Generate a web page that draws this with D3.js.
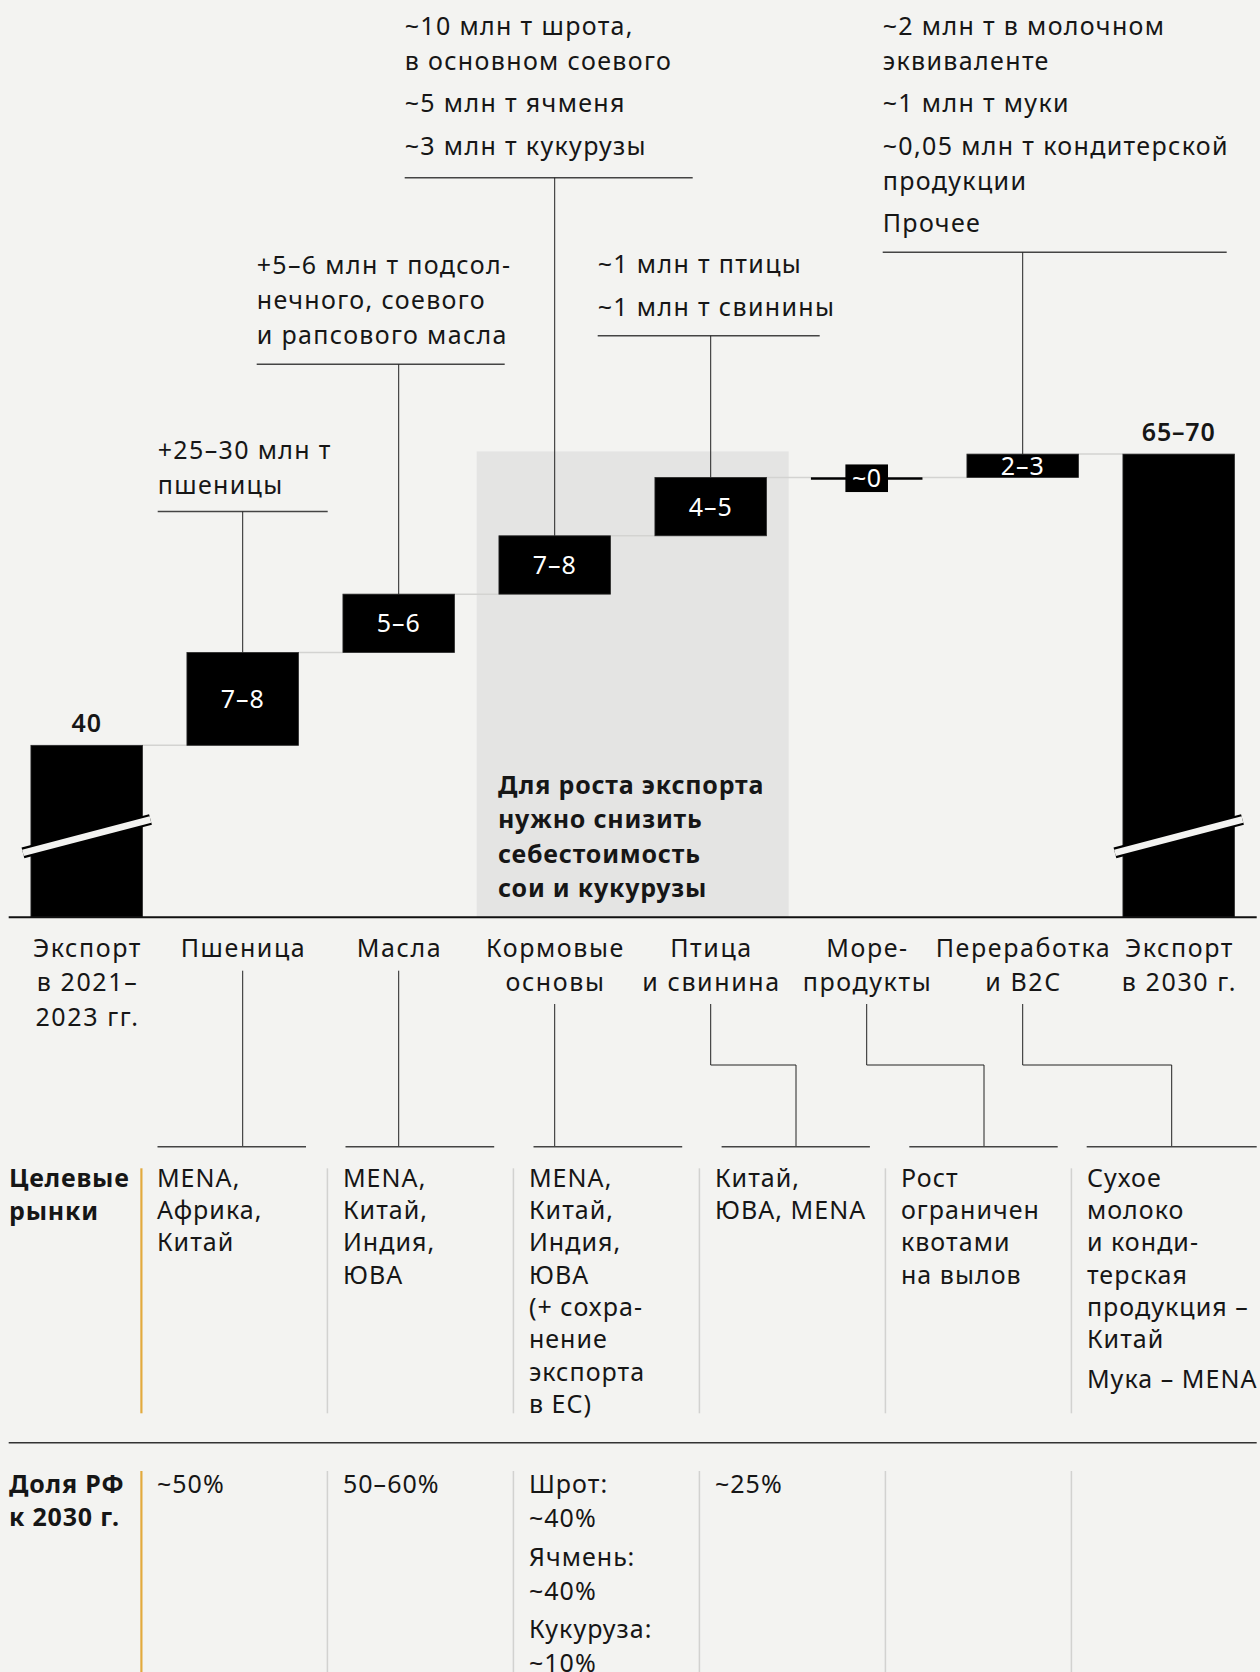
<!DOCTYPE html>
<html><head><meta charset="utf-8">
<script src="https://cdn.jsdelivr.net/npm/d3@7"></script>
<style>
html,body{margin:0;padding:0;background:#f3f3f1;}
svg{display:block;}
text{font-family:"Noto Sans",sans-serif;fill:#161616;font-size:25px;letter-spacing:1.6px;}
text.note{letter-spacing:1.35px;}
text.cell{letter-spacing:1.05px;}
text.b{font-weight:700;letter-spacing:0.8px;}
</style></head><body>
<svg id="chart" width="1260" height="1672"></svg>
<script>
// ---------- DATA ----------
const categories = ["export2023","wheat","oils","feed","meat","seafood","processing","export2030"];
const categoryLabels = [
  ["Экспорт","в 2021–","2023 гг."],["Пшеница"],["Масла"],["Кормовые","основы"],
  ["Птица","и свинина"],["Море-","продукты"],["Переработка","и B2C"],["Экспорт","в 2030 г."]
];
const stepKinds = ["total","step","step","step","step","step","step","total"];
// bar sizes as drawn in the picture (млн т, schematic)
const stepValues = [40, 8.75, 5.5, 5.5, 5.5, 0, 2.2, null];
const valueLabels = ["40","7–8","5–6","7–8","4–5","~0","2–3","65–70"];
const axisFloor = 23.8;   // broken axis: bars start here

const noteWheat = [["+25–30 млн т","пшеницы"]];
const noteOils = [["+5–6 млн т подсол-","нечного, соевого","и рапсового масла"]];
const noteFeed = [["~10 млн т шрота,","в основном соевого"],["~5 млн т ячменя"],["~3 млн т кукурузы"]];
const noteMeat = [["~1 млн т птицы"],["~1 млн т свинины"]];
const noteProcessing = [["~2 млн т в молочном","эквиваленте"],["~1 млн т муки"],["~0,05 млн т кондитерской","продукции"],["Прочее"]];

const shadeText = ["Для роста экспорта","нужно снизить","себестоимость","сои и кукурузы"];

const rowTitles = [["Целевые","рынки"],["Доля РФ","к 2030 г."]];
const targetMarkets = [
  [["MENA,","Африка,","Китай"]],
  [["MENA,","Китай,","Индия,","ЮВА"]],
  [["MENA,","Китай,","Индия,","ЮВА","(+ сохра-","нение","экспорта","в ЕС)"]],
  [["Китай,","ЮВА, MENA"]],
  [["Рост","ограничен","квотами","на вылов"]],
  [["Сухое","молоко","и конди-","терская","продукция –","Китай"],["Мука – MENA"]]
];
const shares2030 = [
  [["~50%"]],[["50–60%"]],[["Шрот:","~40%"],["Ячмень:","~40%"],["Кукуруза:","~10%"]],[["~25%"]],[],[]
];

// ---------- LAYOUT ----------
const svg = d3.select("#chart");
const baseY = 917.2;
const x = d3.scaleBand().domain(categories).range([8.7, 1256.7]).paddingInner(0.285).paddingOuter(0.1425);
const bw = x.bandwidth();
const cx = c => x(c) + bw/2;
const y = d3.scaleLinear().domain([axisFloor, 67.45]).range([baseY, 454.1]);

// cumulative
let acc = 0;
const bars = categories.map((c,i) => {
  let a, b;
  if (stepKinds[i] === "total") {
    const v = stepValues[i] == null ? acc : stepValues[i];
    a = axisFloor; b = v; acc = v;
  } else {
    a = acc; b = acc + stepValues[i]; acc = b;
  }
  return {c, i, a, b, label: valueLabels[i], kind: stepKinds[i]};
});

// shaded area (feed + meat)
const half = (x.step() - bw)/2;
const shadeTop = 451.4;
svg.append("rect")
  .attr("x", x("feed") - half).attr("width", x("meat") + bw + half - (x("feed") - half))
  .attr("y", shadeTop).attr("height", baseY - shadeTop)
  .attr("fill", "#e4e4e3");

shadeText.forEach((t,k) => svg.append("text").attr("class","b").attr("x", x("feed") - 1).attr("y", 794 + k*34.4).text(t));

// connectors
bars.slice(0,-1).forEach((d,i) => {
  const nx = bars[i+1];
  svg.append("line")
    .attr("x1", x(d.c) + bw).attr("x2", x(nx.c))
    .attr("y1", y(d.b)).attr("y2", y(d.b))
    .attr("stroke", "#d3d3d1").attr("stroke-width", 1.5);
});

// bars
bars.forEach(d => {
  if (d.a === d.b && d.kind === "step") {
    const yy = y(d.b) + 1;
    svg.append("line").attr("x1", x(d.c)).attr("x2", x(d.c)+bw).attr("y1", yy).attr("y2", yy)
      .attr("stroke", "#000").attr("stroke-width", 2.5);
    svg.append("rect").attr("x", cx(d.c) - 21.3).attr("y", yy - 14).attr("width", 42.6).attr("height", 27.6).attr("fill","#000");
    svg.append("text").attr("x", cx(d.c)).attr("y", yy).attr("dy", "0.35em").attr("text-anchor","middle")
      .style("fill","#fff").style("letter-spacing","0.5px").text(d.label);
    return;
  }
  const top = y(Math.max(d.a,d.b)), bot = y(Math.min(d.a,d.b));
  svg.append("rect").attr("x", x(d.c)).attr("width", bw).attr("y", top).attr("height", bot - top)
    .attr("fill", "#000").attr("stroke","#2a2a2a").attr("stroke-width",0.8);
  if (d.kind === "total") {
    svg.append("text").attr("class","b").attr("x", cx(d.c)).attr("y", top - 13.5).attr("text-anchor","middle")
      .style("font-weight", 600).text(d.label);
    const by = baseY - 81, x0 = x(d.c) - 8, x1 = x(d.c) + bw + 8;
    [["#000", 11], ["#f3f3f1", 6.5]].forEach(([col, sw]) =>
      svg.append("line").attr("x1", x0).attr("x2", x1).attr("y1", by + 16.7).attr("y2", by - 16.7)
        .attr("stroke", col).attr("stroke-width", sw));
  } else {
    svg.append("text").attr("x", cx(d.c)).attr("y", (top+bot)/2).attr("dy","0.36em").attr("text-anchor","middle")
      .style("fill","#fff").style("letter-spacing","1px").text(d.label);
  }
});

// baseline
svg.append("line").attr("x1", 8.7).attr("x2", 1256.7).attr("y1", baseY).attr("y2", baseY)
  .attr("stroke","#111").attr("stroke-width",2);

// top notes
const notes = [
  {c:"wheat", groups:noteWheat, top:459.2, under:511.6, left:-85, right:85},
  {c:"oils", groups:noteOils, top:274, under:364.3, left:-142, right:106},
  {c:"feed", groups:noteFeed, top:35, under:177.7, left:-150, right:138},
  {c:"meat", groups:noteMeat, top:273.3, under:335.7, left:-113, right:109},
  {c:"processing", groups:noteProcessing, top:35, under:252.3, left:-140, right:204}
];
notes.forEach(n => {
  const c0 = cx(n.c);
  let yy = n.top;
  n.groups.forEach((g,gi) => {
    if (gi > 0) yy += 42.3 - 35;
    g.forEach(t => { svg.append("text").attr("class","note").attr("x", c0 + n.left).attr("y", yy).text(t); yy += 35; });
  });
  svg.append("line").attr("x1", c0 + n.left).attr("x2", c0 + n.right).attr("y1", n.under).attr("y2", n.under)
    .attr("stroke","#444").attr("stroke-width",1.5);
  const b = bars.find(d => d.c === n.c);
  svg.append("line").attr("x1", c0).attr("x2", c0).attr("y1", n.under).attr("y2", y(Math.max(b.a,b.b)))
    .attr("stroke","#222").attr("stroke-width",1);
});

// category labels
categories.forEach((c,i) => {
  categoryLabels[i].forEach((t,k) => svg.append("text").attr("x", cx(c) + 0.8).attr("y", 956.7 + k*34.7)
    .attr("text-anchor","middle").text(t));
});

// brackets to table
const brackets = [
  {c:"wheat", from:970.7, drop:null, l:157.5, r:306},
  {c:"oils", from:970.7, drop:null, l:345.5, r:494.2},
  {c:"feed", from:1004, drop:null, l:533.5, r:682.2},
  {c:"meat", from:1004, drop:796, l:721.6, r:869.9},
  {c:"seafood", from:1004, drop:984, l:909.3, r:1057.7},
  {c:"processing", from:1004, drop:1171.7, l:1086.7, r:1256.7}
];
const bracketY = 1146.7, elbowY = 1065;
brackets.forEach(b => {
  const c0 = cx(b.c);
  const path = b.drop == null
    ? `M${c0},${b.from}V${bracketY}`
    : `M${c0},${b.from}V${elbowY}H${b.drop}V${bracketY}`;
  svg.append("path").attr("d", path).attr("fill","none").attr("stroke","#222").attr("stroke-width",1);
  svg.append("line").attr("x1", b.l).attr("x2", b.r).attr("y1", bracketY).attr("y2", bracketY)
    .attr("stroke","#444").attr("stroke-width",1.5);
});

// table
const steps = categories.slice(1,7);
const tx = d3.scaleBand().domain(steps).range([141.4, 141.4 + 6*186]);
const rows = [
  {data: targetMarkets, top:1186.7, lh:32.3, gap:40, sepTop:1168.3, sepBot:1413.3},
  {data: shares2030, top:1493.3, lh:34, gap:38.5, sepTop:1471, sepBot:1672}
];
rows.forEach((r,ri) => {
  rowTitles[ri].forEach((t,k) => svg.append("text").attr("class","b").attr("x", 9).attr("y", r.top + k*33).text(t));
  steps.forEach((s,si) => {
    svg.append("line").attr("x1", tx(s)).attr("x2", tx(s)).attr("y1", r.sepTop).attr("y2", r.sepBot)
      .attr("stroke", si === 0 ? "#e2aa3e" : "#d2d2d0").attr("stroke-width", si === 0 ? 2.2 : 1.5);
    let yy = r.top;
    r.data[si].forEach((g,gi) => {
      if (gi > 0) yy += r.gap - r.lh;
      g.forEach(t => { svg.append("text").attr("class","cell").attr("x", tx(s) + 15.5).attr("y", yy).text(t); yy += r.lh; });
    });
  });
});
svg.append("line").attr("x1", 8.7).attr("x2", 1256.7).attr("y1", 1442.7).attr("y2", 1442.7)
  .attr("stroke","#333").attr("stroke-width",1.5);
</script>
</body></html>
